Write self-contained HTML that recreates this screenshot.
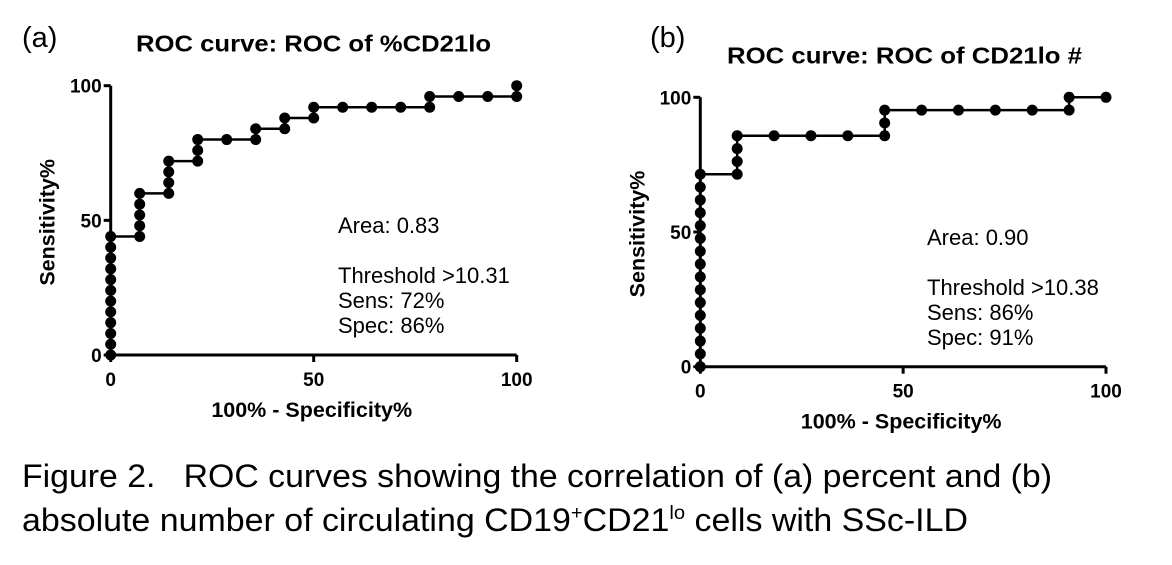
<!DOCTYPE html>
<html><head><meta charset="utf-8"><style>
html,body{margin:0;padding:0;background:#fff;}
svg{display:block;font-family:"Liberation Sans",Arial,sans-serif;}
</style></head>
<body>
<svg id="fig" width="1172" height="565" viewBox="0 0 1172 565" xml:space="preserve">
  <text x="22" y="47" font-size="29">(a)</text>
  <text x="650" y="47" font-size="29">(b)</text>
  <text x="22" y="487" font-size="32" textLength="1030" lengthAdjust="spacingAndGlyphs" style="white-space:pre">Figure 2.   ROC curves showing the correlation of (a) percent and (b)</text>
  <text x="22" y="531" font-size="32" textLength="946" lengthAdjust="spacingAndGlyphs">absolute number of circulating CD19<tspan font-size="19" dy="-12">+</tspan><tspan dy="12">CD21</tspan><tspan font-size="19" dy="-12">lo</tspan><tspan dy="12"> cells with SSc-ILD</tspan></text>
</svg>
<script>
// Panel (a) data
const aX = [0,0,0,0,0,0,0,0,0,0,0,0, 7.14,7.14,7.14,7.14,7.14, 14.29,14.29,14.29,14.29, 21.43,21.43,21.43, 28.57, 35.71,35.71, 42.86,42.86, 50,50, 57.14, 64.29, 71.43, 78.57,78.57, 85.71, 92.86, 100,100];
const aY = [0,4,8,12,16,20,24,28,32,36,40,44, 44,48,52,56,60, 60,64,68,72, 72,76,80, 80, 80,84, 84,88, 88,92, 92, 92, 92, 92,96, 96, 96, 96,100];
// Panel (b) data
const bX = [0,0,0,0,0,0,0,0,0,0,0,0,0,0,0,0, 9.09,9.09,9.09,9.09, 18.18, 27.27, 36.36, 45.45,45.45,45.45, 54.55, 63.64, 72.73, 81.82, 90.91,90.91, 100];
const bY = [0,4.76,9.52,14.29,19.05,23.81,28.57,33.33,38.1,42.86,47.62,52.38,57.14,61.9,66.67,71.43, 71.43,76.19,80.95,85.71, 85.71, 85.71, 85.71, 85.71,90.48,95.24, 95.24, 95.24, 95.24, 95.24, 95.24,100, 100];
const xTicks = [0,50,100];
const yTicks = [0,50,100];

const NS = "http://www.w3.org/2000/svg";
const svg = document.getElementById('fig');
function mk(tag, attrs, parent){
  const e = document.createElementNS(NS, tag);
  for (const k in attrs) e.setAttribute(k, attrs[k]);
  (parent||svg).appendChild(e);
  return e;
}
function panel(id, X, Y, x0, x1, y0, y1, title, titleX, notes, noteX, noteY){
  const g = mk('g', {});
  
  
  const sx = v => x0 + (x1 - x0) * v / 100;
  const sy = v => y0 - (y0 - y1) * v / 100;
  const t = mk('text', {x: titleX, y: y1 - 34, 'font-size': 23, 'font-weight': 'bold', textLength: 355, lengthAdjust: 'spacingAndGlyphs'}, g);
  t.textContent = title;
  
  
  const ax = mk('path', {d: `M${x0},${y1} L${x0},${y0} L${x1},${y0}`, fill: 'none', stroke: '#000', 'stroke-width': 3}, g);
  
  
  xTicks.forEach(v => {
    mk('line', {x1: sx(v), x2: sx(v), y1: y0, y2: y0 + 7, stroke: '#000', 'stroke-width': 3}, g);
    const tl = mk('text', {x: sx(v), y: y0 + 31, 'font-size': 19, 'font-weight': 'bold', 'text-anchor': 'middle'}, g);
    tl.textContent = v;
    
    
  });
  yTicks.forEach(v => {
    mk('line', {x1: x0 - 7, x2: x0, y1: sy(v), y2: sy(v), stroke: '#000', 'stroke-width': 3}, g);
    const tl = mk('text', {x: x0 - 9, y: sy(v) + 7, 'font-size': 19, 'font-weight': 'bold', 'text-anchor': 'end'}, g);
    tl.textContent = v;
    
    
  });
  const xt = mk('text', {x: (x0 + x1) / 2 - 2, y: y0 + 62, 'font-size': 21.5, 'font-weight': 'bold', 'text-anchor': 'middle'}, g);
  xt.textContent = '100% - Specificity%';
  
  
  const yc = (y0 + y1) / 2 + 2;
  const yt = mk('text', {x: x0 - 56, y: yc, 'font-size': 21.5, 'font-weight': 'bold', 'text-anchor': 'middle', transform: `rotate(-90 ${x0 - 56} ${yc})`}, g);
  yt.setAttribute('transform', `rotate(-90 ${x0 - 56} ${yc})`);
  yt.setAttribute('x', x0 - 56);
  yt.textContent = 'Sensitivity%';
  
  
  let d = '';
  X.forEach((v, i) => { d += (i ? 'L' : 'M') + sx(v) + ',' + sy(Y[i]); });
  const ln = mk('path', {d: d, fill: 'none', stroke: '#000', 'stroke-width': 2.5}, g);
  
  
  X.forEach((v, i) => {
    const c = mk('circle', {cx: sx(v), cy: sy(Y[i]), r: 5.5, fill: '#000'}, g);
    
    
  });
  const offs = [0, 0, 50, 75, 100];
  notes.forEach((s, i) => {
    if (!s) return;
    const n = mk('text', {x: noteX, y: noteY + offs[i], 'font-size': 22}, g);
    n.textContent = s;
    
    
  });
}
panel('a', aX, aY, 110.7, 516.7, 355, 85.7, 'ROC curve: ROC of %CD21lo', 136, ['Area: 0.83', '', 'Threshold >10.31', 'Sens: 72%', 'Spec: 86%'], 338, 233);
panel('b', bX, bY, 700.3, 1106, 366.7, 97.3, 'ROC curve: ROC of CD21lo #', 727, ['Area: 0.90', '', 'Threshold >10.38', 'Sens: 86%', 'Spec: 91%'], 927, 245);
</script>
</body></html>
